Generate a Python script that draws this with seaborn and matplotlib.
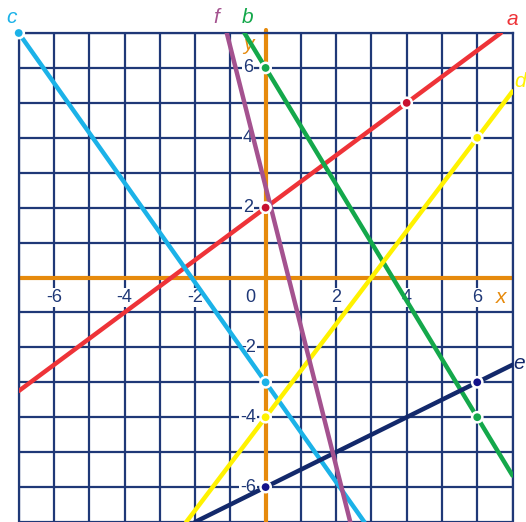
import pandas as pd
import matplotlib
matplotlib.use("Agg")
import matplotlib.pyplot as plt
import seaborn as sns

# -- Data: lines a..f (endpoints) ------------------------------------------
line_names = ["a", "b", "c", "d", "e", "f"]
x_start = [-7.0, -0.6, -7.0, -2.25, -2.0, -1.1]
y_start = [-3.25, 7.0, 7.0, -7.0, -7.0, 7.0]
x_end = [6.67, 7.0, 2.8, 7.0, 7.0, 2.4]
y_end = [7.0, -5.67, -7.0, 5.33, -2.5, -7.0]

# marked points on the lines
point_line = ["a", "a", "b", "b", "c", "c", "d", "d", "e", "e"]
point_x = [0, 4, 0, 6, -7, 0, 0, 6, 0, 6]
point_y = [2, 5, 6, -4, 7, -3, -4, 4, -6, -3]

# line name labels (placed just outside the ends)
label_x = [7.0, -0.5, -7.2, 7.22, 7.2, -1.4]
label_y = [7.4, 7.45, 7.45, 5.6, -2.45, 7.45]

tick_vals = [-6, -4, -2, 2, 4, 6]

colours = {"a": "#EE3338", "b": "#14A84B", "c": "#1BB2E8",
           "d": "#FFF200", "e": "#13296B", "f": "#A4528F"}
dot_colours = {"a": "#C8102E", "b": "#14A84B", "c": "#1BB2E8",
               "d": "#FFF200", "e": "#13128A"}
navy = "#1F3877"
orange = "#E68A0C"

lines = pd.DataFrame({
    "line": line_names * 2,
    "x": x_start + x_end,
    "y": y_start + y_end,
    "order": [0] * 6 + [1] * 6,
}).sort_values(["line", "order"])
points = pd.DataFrame({"line": point_line, "x": point_x, "y": point_y})

# -- Figure ----------------------------------------------------------------
sns.set_style("white")
plt.rcParams["font.family"] = ["Liberation Sans", "DejaVu Sans"]
fig = plt.figure(figsize=(5.26, 5.22), dpi=100)
ax = fig.add_axes([18.7 / 526, 0, (512.5 - 18.7) / 526, (522 - 33) / 522])
ax.set_xlim(-7, 7)
ax.set_ylim(-6.92, 7)

# square grid
ax.set_xticks(range(-7, 8))
ax.set_yticks(range(-7, 8))
ax.grid(True, color=navy, linewidth=1.6, zorder=0)
ax.tick_params(length=0, labelbottom=False, labelleft=False)
for side, sp in ax.spines.items():
    sp.set_visible(side != "bottom")
    sp.set_color(navy)
    sp.set_linewidth(1.6)

# coordinate axes
ax.axhline(0, color=orange, linewidth=3, zorder=2)
ax.plot([0, 0], [-7, 7.1], color=orange, linewidth=3, zorder=2, clip_on=False)

# tick numbers with white boxes
box = dict(facecolor="white", edgecolor="none", pad=0.8)
for v in tick_vals:
    ax.text(v, -0.57, str(v), ha="center", va="center", fontsize=13,
            color=navy, bbox=box, zorder=3)
    ax.text(-0.5, v, str(v), ha="center", va="center", fontsize=13,
            color=navy, bbox=box, zorder=3)
ax.text(-0.44, -0.57, "0", ha="center", va="center", fontsize=13,
        color=navy, bbox=box, zorder=3)
ax.text(6.67, -0.57, "x", ha="center", va="center", fontsize=15,
        color=orange, style="italic", zorder=3)
ax.text(-0.5, 6.68, "y", ha="center", va="center", fontsize=15,
        color=orange, style="italic", zorder=3)

# the lines
sns.lineplot(data=lines, x="x", y="y", hue="line", units="line",
             estimator=None, sort=False, palette=colours, linewidth=3.2,
             legend=False, ax=ax, zorder=4)
sns.scatterplot(data=points, x="x", y="y", hue="line", palette=dot_colours,
                s=55, edgecolor="white", linewidth=1.8, legend=False,
                ax=ax, zorder=5, clip_on=False)
ax.set_xlabel("")
ax.set_ylabel("")

for name, lx, ly in zip(line_names, label_x, label_y):
    ax.text(lx, ly, name, ha="center", va="center", fontsize=15,
            style="italic", color=colours[name], clip_on=False)

fig.savefig("out.png", dpi=100)
